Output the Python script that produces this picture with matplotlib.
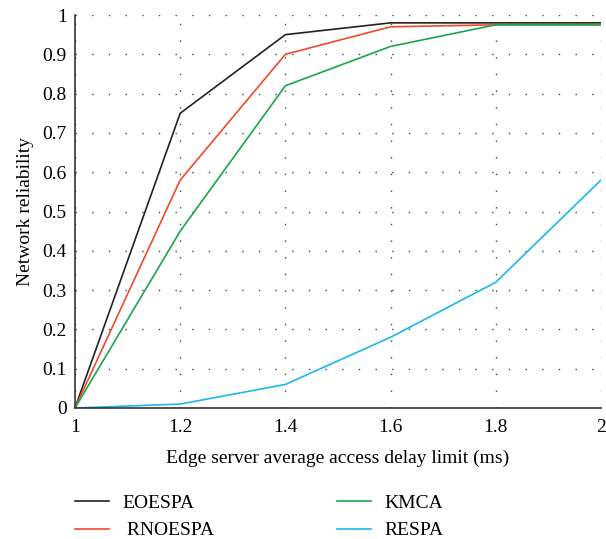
import matplotlib
matplotlib.use("Agg")
import matplotlib.pyplot as plt

x = [1.0, 1.2, 1.4, 1.6, 1.8, 2.0]
eoespa = [0.0, 0.75, 0.95, 0.98, 0.98, 0.98]
rnoespa = [0.0, 0.58, 0.90, 0.97, 0.975, 0.975]
kmca = [0.0, 0.45, 0.82, 0.92, 0.975, 0.975]
respa = [0.0, 0.01, 0.06, 0.18, 0.32, 0.58]
labels = ["EOESPA", " RNOESPA", "KMCA", "RESPA"]
colors = ["#222222", "#f04a2a", "#1aa64a", "#1ab8f0"]
xticklabels = ["1", "1.2", "1.4", "1.6", "1.8", "2"]
yticklabels = ["0", "0.1", "0.2", "0.3", "0.4", "0.5", "0.6", "0.7", "0.8", "0.9", "1"]

plt.rcParams['font.family'] = ['Liberation Serif', 'DejaVu Serif']

fig = plt.figure(figsize=(6.06, 5.39), dpi=100)
ax = fig.add_axes([75/606, 1-408/539, 526/606, 393/539])

series = [eoespa, rnoespa, kmca, respa]
handles = []
for s, c, l in zip(series, colors, labels):
    h, = ax.plot(x, s, color=c, lw=1.2, label=l)
    handles.append(h)

ax.set_xlim(1, 2)
ax.set_ylim(0, 1)
ax.set_xticks([1, 1.2, 1.4, 1.6, 1.8, 2])
ax.set_xticklabels(xticklabels)
ax.set_yticks([i/10 for i in range(11)])
ax.set_yticklabels(yticklabels)
ax.tick_params(length=0, labelsize=14)
ax.tick_params(axis='x', pad=8)
ax.tick_params(axis='y', pad=6)
ax.grid(True, linestyle=(0, (1, 11)), color="#444444", lw=1.0)
for sp in ["top", "right"]:
    ax.spines[sp].set_visible(False)
for sp in ["left", "bottom"]:
    ax.spines[sp].set_linewidth(1.2)
    ax.spines[sp].set_color("#333333")
ax.set_xlabel("Edge server average access delay limit (ms)", fontsize=14, labelpad=10)
ax.set_ylabel("Network reliability", fontsize=14, labelpad=6)

fig.legend(handles=handles, labels=labels, ncol=2, loc="upper left",
           bbox_to_anchor=(57/606, 1-477/539), frameon=False,
           fontsize=14, handlelength=1.75, columnspacing=6.3,
           labelspacing=0.5, handletextpad=0.7)

fig.savefig("out.png", dpi=100)
